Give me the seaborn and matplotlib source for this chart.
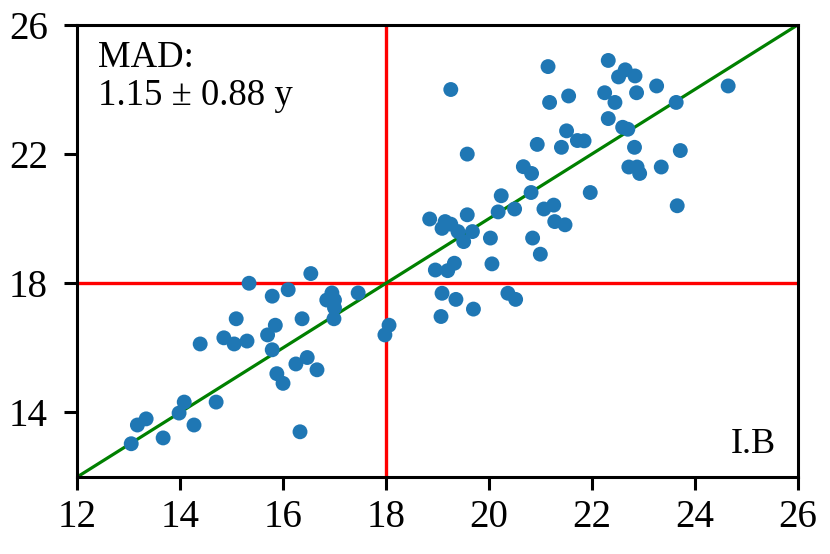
import numpy as np
import pandas as pd
import matplotlib
matplotlib.use("Agg")
import matplotlib.pyplot as plt
import seaborn as sns

# values (years)
true_age = [13.05, 13.17, 13.34, 13.67, 13.98, 14.08, 14.27, 14.39, 14.70, 14.85,
            15.05, 15.09, 15.30, 15.34, 15.79, 15.70, 15.85, 15.79, 15.88, 16.00,
            16.10, 16.33, 16.25, 16.37, 16.47, 16.54, 16.66, 16.85, 16.95, 17.00,
            17.00, 16.99, 17.46, 18.06, 17.98,
            21.15, 19.26, 21.18, 21.55, 21.51, 20.94, 21.41, 21.72, 19.58, 20.67,
            20.83, 20.82, 20.24, 20.18, 20.50, 21.07, 21.26, 21.28, 21.48, 18.85,
            19.15, 19.09, 19.26, 19.40, 19.58, 19.68, 19.51, 20.03, 20.85, 21.00,
            18.96, 19.20, 19.33, 20.06, 19.09, 19.36, 19.70, 20.37, 20.52, 19.07,
            22.32, 22.65, 22.52, 22.84, 22.25, 22.45, 22.87, 23.26, 24.65, 23.64,
            22.32, 22.60, 22.70, 21.85, 22.83, 23.72, 22.72, 22.88, 22.93, 23.35,
            21.97, 23.66]
pred_age = [13.03, 13.61, 13.80, 13.21, 13.98, 14.32, 13.61, 16.12, 14.32, 16.31,
            16.12, 16.90, 16.21, 18.00, 17.60, 16.40, 16.70, 15.94, 15.20, 14.90,
            17.80, 13.40, 15.50, 16.90, 15.70, 18.30, 15.32, 17.48, 17.70, 17.48,
            17.24, 16.90, 17.70, 16.70, 16.40,
            24.71, 24.00, 23.60, 23.80, 22.72, 22.30, 22.21, 22.42, 22.00, 21.61,
            21.40, 20.81, 20.71, 20.21, 20.30, 20.30, 20.42, 19.91, 19.81, 19.99,
            19.91, 19.70, 19.83, 19.60, 20.12, 19.60, 19.29, 19.40, 19.40, 18.90,
            18.41, 18.39, 18.62, 18.60, 17.69, 17.50, 17.20, 17.69, 17.50, 16.97,
            24.90, 24.61, 24.39, 24.42, 23.90, 23.60, 23.90, 24.11, 24.11, 23.60,
            23.10, 22.83, 22.77, 22.41, 22.21, 22.11, 21.60, 21.60, 21.40, 21.60,
            20.81, 20.40]

threshold = 18
lims = [12, 26]
ticks = [12, 14, 16, 18, 20, 22, 24, 26]
yticks = [14, 18, 22, 26]
mad_text = "MAD:\n1.15 \u00b1 0.88 y"
panel = "I.B"

df = pd.DataFrame({"true": true_age, "pred": pred_age})

sns.set_style("ticks")
plt.rcParams["font.family"] = ["Liberation Serif", "DejaVu Serif"]

fig = plt.figure(figsize=(8.3, 5.54), dpi=100)
ax = fig.add_axes([0.093, 0.139, 0.868, 0.816])

ax.axvline(threshold, color="red", lw=2.4, zorder=1)
ax.axhline(threshold, color="red", lw=2.4, zorder=1)
ax.plot(lims, lims, color="green", lw=2.3, zorder=1)
sns.scatterplot(data=df, x="true", y="pred", ax=ax, s=115, color="#1f77b4",
                edgecolor="none", zorder=3)

ax.set_xlim(lims)
ax.set_ylim(lims)
ax.set_xticks(ticks)
ax.set_yticks(yticks)
ax.set_xlabel("")
ax.set_ylabel("")
ax.tick_params(labelsize=28, length=9.5, width=2.2, colors="black")
ax.tick_params(axis="x", pad=6)
ax.tick_params(axis="y", pad=11.5)
for sp in ax.spines.values():
    sp.set_linewidth(2.2)
    sp.set_color("black")

ax.text(0.029, 0.965, mad_text, transform=ax.transAxes, fontsize=26.5,
        va="top", ha="left", linespacing=1.12, color="black")
ax.text(0.97, 0.035, panel, transform=ax.transAxes, fontsize=26,
        va="bottom", ha="right", color="black")

fig.savefig("out.png", dpi=100)
